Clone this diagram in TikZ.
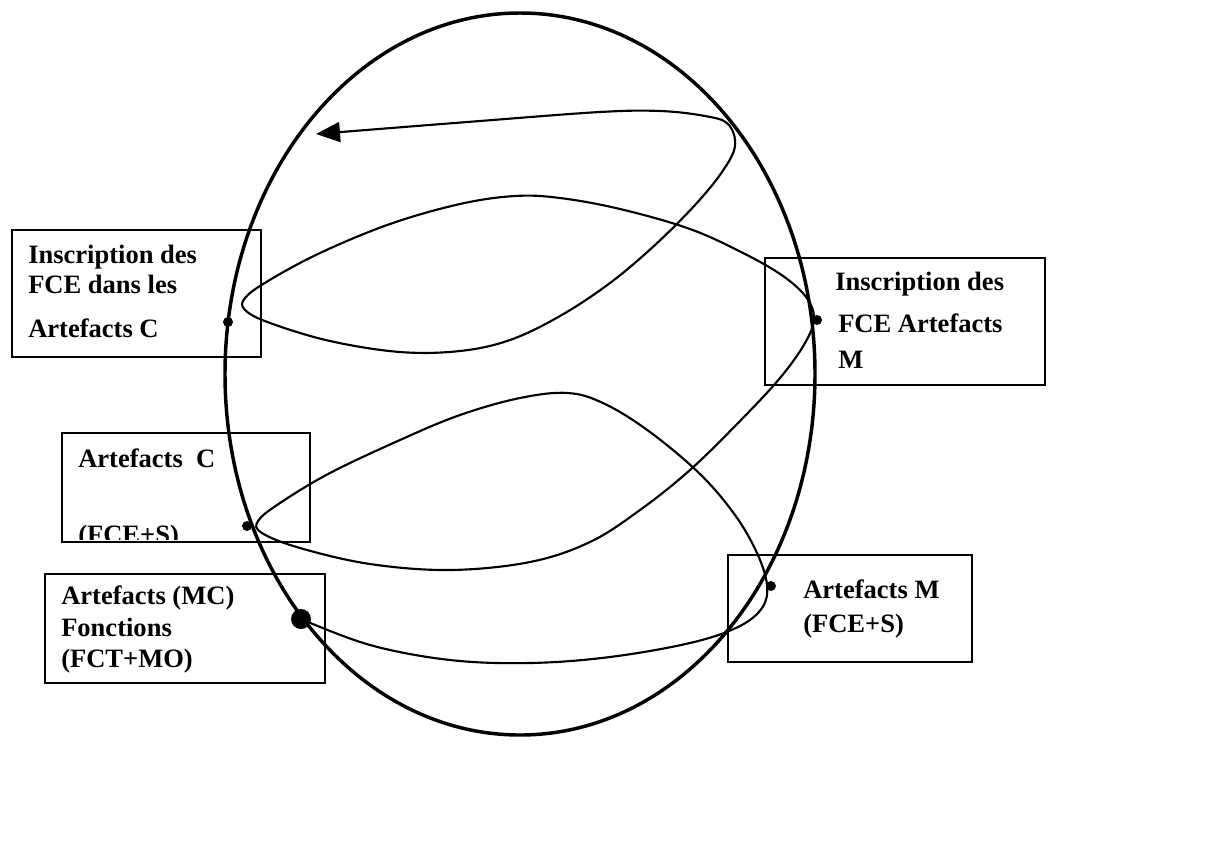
\documentclass[tikz,border=0pt]{standalone}
\usepackage{fontspec}
\setmainfont{Liberation Serif}
\usetikzlibrary{arrows.meta}

\tikzset{
  box/.style={line width=1.1pt},
  lbl/.style={anchor=base west, inner sep=0pt, font=\fontsize{19.9}{24}\selectfont\bfseries},
  loopline/.style={line width=1.6pt, line join=round},
}

\begin{document}
\begin{tikzpicture}[x=0.75pt, y=-0.75pt]
			%%%%% START %%%%%
			\useasboundingbox (0,0) rectangle (1218,844);
			
			% the big ellipse
			\draw[line width=2.6pt] (520,374) ellipse [x radius=295, y radius=361];
			
			% boxes
			\draw[box] (12,230) rectangle (261,357);
			\node[lbl] (inscC1) at (28,263) {Inscription des};
			\node[lbl] (inscC2) at (28,293) {FCE dans les};
			\node[lbl] (inscC3) at (28,337) {Artefacts C};
			
			\draw[box] (765,258) rectangle (1045,385);
			\node[lbl] (inscM1) at (835,290) {Inscription des};
			\node[lbl] (inscM2) at (838,332) {FCE Artefacts};
			\node[lbl] (inscM3) at (838,368) {M};
			
			\draw[box] (62,433) rectangle (310,542);
			\node[lbl] (artC1) at (78,467) {Artefacts\ \ C};
			\begin{scope}
				\clip (62,433) rectangle (310,539);
				\node[lbl] (artC2) at (78,543) {(FCE+S)};
			\end{scope}
			
			\draw[box] (45,574) rectangle (325,683);
			\node[lbl] (artMC1) at (61,604) {Artefacts (MC)};
			\node[lbl] (artMC2) at (61,636) {Fonctions};
			\node[lbl] (artMC3) at (61,667) {(FCT+MO)};
			
			\draw[box] (728,555) rectangle (972,662);
			\node[lbl] (artM1) at (803,598) {Artefacts M};
			\node[lbl] (artM2) at (803,632) {(FCE+S)};
			
			% dots
			\coordinate (start) at (301,619);
			\coordinate (dotInscC) at (228,322);
			\coordinate (dotInscM) at (817,320);
			\coordinate (dotArtC) at (247,526);
			\coordinate (dotArtM) at (771,586);
			\fill (start) circle (10);
			\fill (dotInscC) circle (5);
			\fill (dotInscM) circle (5);
			\fill (dotArtC) circle (5);
			\fill (dotArtM) circle (5);
			
			% the loop line
			\draw[loopline, -{Triangle[length=18pt, width=15pt]}] plot[smooth, tension=0.6] coordinates {
				(start) (370,645) (450,660) (530,663) (610,657) (690,643) (738,627)
				(762,608) (767,585) (757,553) (735,515) (700,474) (650,432) (605,404)
				(568,393) (520,398) (460,415) (400,440) (330,473) (280,503) (258,521)
				(262,533) (300,548) (370,564) (450,570) (530,562) (590,542) (640,510)
				(690,470) (740,421) (780,378) (805,343) (814,318) (806,297) (783,276)
				(745,254) (690,229) (620,209) (560,198) (515,196) (460,204) (390,224)
				(320,253) (268,281) (245,298) (245,310) (270,323) (330,341) (400,352)
				(460,351) (510,340) (560,316) (610,283) (655,245) (695,205) (722,172)
				(735,146) (728,124) (705,116) (660,111) (600,112) (480,121) (316,134)};
			
			%%%%% END %%%%%
\end{tikzpicture}
\end{document}
